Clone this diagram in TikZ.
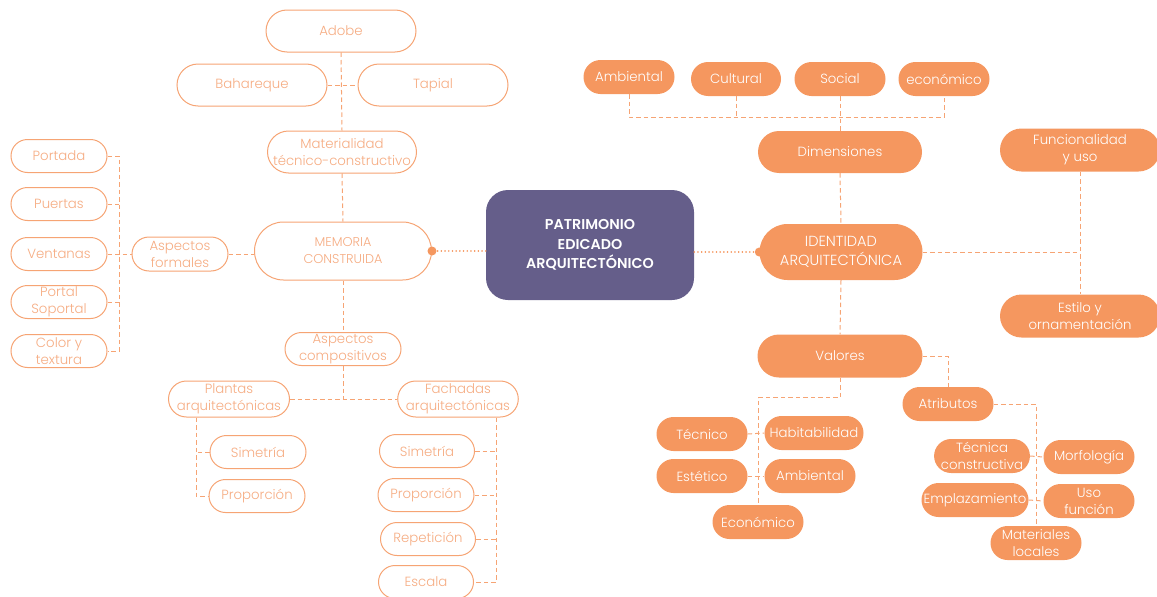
\documentclass[tikz,border=0pt]{standalone}
\usepackage{fontspec}
\IfFontExistsTF{Poppins Light}{\setmainfont{Poppins Light}[BoldFont=Poppins SemiBold]}{\setmainfont{Poppins}}
\usetikzlibrary{shapes.misc}
\definecolor{orf}{HTML}{F5975F}
\definecolor{orl}{HTML}{F6A474}
\definecolor{ort}{HTML}{F6AC82}
\definecolor{pur}{HTML}{655E8A}
\tikzset{
  pill/.style 2 args={rounded rectangle, minimum width=#1, minimum height=#2, inner sep=0pt, align=center, font=\fontsize{13.3}{17}\selectfont},
  ol/.style={draw=orl, line width=1pt, fill=white, text=ort},
  fl/.style={fill=orf, text=white},
  dl/.style={draw=orl, line width=1pt, dash pattern=on 4.5pt off 3pt},
  dt/.style={draw=orf, line width=1.6pt, dash pattern=on 0.1pt off 3.6pt, line cap=round},
  dotc/.style={circle, fill=orf, inner sep=0pt, minimum size=9pt}
}
\begin{document}
\begin{tikzpicture}[x=1pt,y=-1pt]
\useasboundingbox (0,0) rectangle (1157,597);
% ---- left branch
\node[pill={150pt}{42pt}, ol] (adobe) at (341,31) {Adobe};
\node[pill={150pt}{42pt}, ol] (bah) at (252,85) {Bahareque};
\node[pill={150pt}{42pt}, ol] (tap) at (433,85) {Tapial};
\node[pill={149pt}{42pt}, ol] (mat) at (342,152) {Materialidad\\técnico-constructivo};
\node[pill={177pt}{58pt}, ol, font=\fontsize{12.8}{17}\selectfont] (mem) at (343,251) {MEMORIA\\CONSTRUIDA};
\node[pill={96pt}{34pt}, ol] (asf) at (180,254) {Aspectos\\formales};
\node[pill={96pt}{33pt}, ol] (portada) at (59,156) {Portada};
\node[pill={96pt}{33pt}, ol] (puertas) at (59,204) {Puertas};
\node[pill={96pt}{33pt}, ol] (ventanas) at (59,254) {Ventanas};
\node[pill={96pt}{33pt}, ol] (portal) at (59,302) {Portal\\Soportal};
\node[pill={96pt}{33pt}, ol] (colory) at (59,351) {Color y\\textura};
\node[pill={116pt}{33pt}, ol] (asc) at (343,349) {Aspectos\\compositivos};
\node[pill={121pt}{36pt}, ol] (plantas) at (229,399) {Plantas\\arquitectónicas};
\node[pill={120pt}{36pt}, ol] (fachadas) at (458,399) {Fachadas\\arquitectónicas};
\node[pill={96pt}{33pt}, ol] (psim) at (258,452) {Simetría};
\node[pill={96pt}{33pt}, ol] (pprop) at (257,496) {Proporción};
\node[pill={95pt}{33pt}, ol] (fsim) at (427,451) {Simetría};
\node[pill={96pt}{33pt}, ol] (fprop) at (426,495) {Proporción};
\node[pill={95pt}{33pt}, ol] (frep) at (428,539) {Repetición};
\node[pill={95pt}{33pt}, ol] (fesc) at (426,582) {Escala};
\coordinate (ls) at (119,0);
\coordinate (ps) at (196,0);
\coordinate (fs) at (496,0);
\draw[dl] (adobe.south) -- (mat.north);
\draw[dl] (bah.east) -- (tap.west);
\draw[dl] (mat.south) -- (mem.north);
\draw[dl] (asf.east) -- (asf.east -| mem.west);
\draw[dl] (portada.east) -| (ls |- colory.east) -- (colory.east);
\draw[dl] (puertas.east) -- (puertas.east -| ls);
\draw[dl] (portal.east) -- (portal.east -| ls);
\draw[dl] (ventanas.east) -- (asf.west);
\draw[dl] (mem.south) -- (asc.north);
\draw[dl] (asc.south) -- (asc.south |- plantas.east);
\draw[dl] (plantas.east) -- (fachadas.west);
\draw[dl] (plantas.south -| ps) |- (pprop.west);
\draw[dl] (psim.west) -- (psim.west -| ps);
\draw[dl] (fachadas.south -| fs) |- (fesc.east);
\draw[dl] (fsim.east) -- (fsim.east -| fs);
\draw[dl] (fprop.east) -- (fprop.east -| fs);
\draw[dl] (frep.east) -- (frep.east -| fs);
% ---- centre
\node[rectangle, rounded corners=22pt, fill=pur, text=white, minimum width=208pt, minimum height=110pt, align=center, font=\fontsize{14.3}{19.5}\selectfont\bfseries] (cen) at (590,245) {PATRIMONIO\\EDICADO\\ARQUITECTÓNICO};
% ---- right branch
\node[pill={163pt}{56pt}, fl, font=\fontsize{14.6}{18.5}\selectfont] (ident) at (841,252) {IDENTIDAD\\ARQUITECTÓNICA};
\node[pill={164pt}{42pt}, fl] (dim) at (840,152) {Dimensiones};
\node[pill={91pt}{34pt}, fl] (amb) at (629,77) {Ambiental};
\node[pill={90pt}{34pt}, fl] (cul) at (736,79) {Cultural};
\node[pill={91pt}{34pt}, fl] (soc) at (840,79) {Social};
\node[pill={91pt}{34pt}, fl] (eco) at (944,79) {económico};
\node[pill={160pt}{43pt}, fl] (func) at (1080,150) {Funcionalidad\\y uso};
\node[pill={160pt}{43pt}, fl] (estilo) at (1080,316) {Estilo y\\ornamentación};
\node[pill={165pt}{43pt}, fl] (val) at (840,356) {Valores};
\node[pill={91pt}{34pt}, fl] (tec) at (702,434) {Técnico};
\node[pill={99pt}{34pt}, fl] (hab) at (814,433) {Habitabilidad};
\node[pill={91pt}{34pt}, fl] (est) at (702,476) {Estético};
\node[pill={91pt}{34pt}, fl] (ambv) at (810,476) {Ambiental};
\node[pill={91pt}{34pt}, fl] (econ) at (758,522) {Económico};
\node[pill={91pt}{34pt}, fl] (atr) at (948,404) {Atributos};
\node[pill={91pt}{34pt}, fl] (tcon) at (982,456) {Técnica\\constructiva};
\node[pill={91pt}{34pt}, fl] (morf) at (1089,457) {Morfología};
\node[pill={107pt}{34pt}, fl] (empl) at (975,500) {Emplazamiento};
\node[pill={91pt}{34pt}, fl] (uso) at (1089,501) {Uso\\función};
\node[pill={91pt}{34pt}, fl] (matl) at (1036,543) {Materiales\\locales};
\coordinate (hb) at (700,117);
\draw[dl] (amb.south) -- (amb.south |- hb) -- (eco.south |- hb) -- (eco.south);
\draw[dl] (cul.south) -- (cul.south |- hb);
\draw[dl] (soc.south) -- (dim.north);
\draw[dl] (dim.south) -- (ident.north);
\draw[dl] (ident.east) -- (ident.east -| func.south);
\draw[dl] (func.south) -- (estilo.north);
\draw[dl] (ident.south) -- (val.north);
\draw[dl] (val.south) -- ++(0,20) -| (econ.north);
\draw[dl] (tec.east) -- (hab.west);
\draw[dl] (est.east) -- (ambv.west);
\draw[dl] (val.east) -| (atr.north);
\draw[dl] (atr.east) -| (matl.north);
\draw[dl] (tcon.east) -- (morf.west);
\draw[dl] (empl.east) -- (uso.west);
% ---- dotted links with dots
\node[dotc] (dl1) at (mem.east) {};
\node[dotc] (dr1) at (ident.west) {};
\draw[dt] (cen.west |- dl1) -- (dl1);
\draw[dt] (cen.east |- dr1) -- (dr1);
\end{tikzpicture}
\end{document}
